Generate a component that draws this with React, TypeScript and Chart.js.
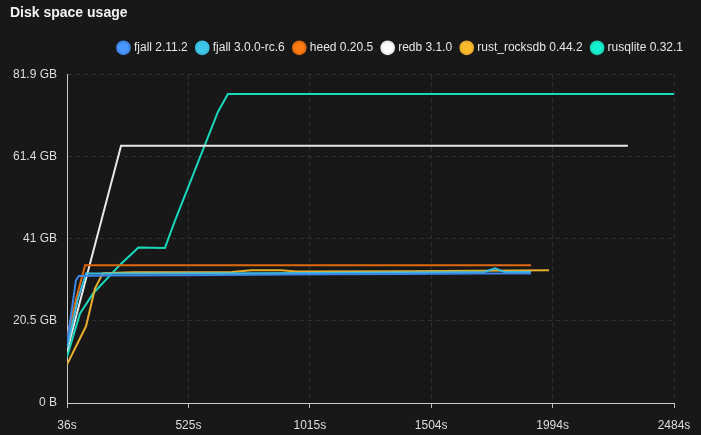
import React, { useEffect, useRef } from "react";
import { Chart, registerables } from "chart.js";

Chart.register(...registerables);

const seriesNames = [
  "fjall 2.11.2",
  "fjall 3.0.0-rc.6",
  "heed 0.20.5",
  "redb 3.1.0",
  "rust_rocksdb 0.44.2",
  "rusqlite 0.32.1",
];

// time (s) and disk usage (GB)
const fjall2T = [36, 72, 84, 200, 500, 800, 1100, 1400, 1700, 1907];
const fjall2Y = [14.9, 30.6, 31.7, 31.8, 31.9, 32.0, 32.1, 32.2, 32.3, 32.3];

const fjall3T = [36, 80, 113, 400, 800, 1200, 1600, 1720, 1762, 1800, 1907];
const fjall3Y = [13.8, 26.0, 32.3, 32.3, 32.4, 32.5, 32.6, 32.7, 33.6, 32.7, 32.7];

const heedT = [36, 75, 109, 1907];
const heedY = [16.2, 26.5, 34.4, 34.4];

const redbT = [36, 254, 2298];
const redbY = [13.0, 64.2, 64.2];

const rocksT = [36, 113, 149, 181, 300, 700, 780, 900, 960, 1400, 1980];
const rocksY = [9.6, 19.2, 28.6, 32.4, 32.6, 32.7, 33.1, 33.1, 32.8, 32.9, 33.1];

const sqliteT = [36, 88, 142, 209, 250, 290, 324, 431, 472, 645, 685, 2484];
const sqliteY = [11.5, 22.3, 27.4, 31.8, 34.5, 36.8, 38.8, 38.7, 45.6, 72.7, 77.1, 77.1];

const xTickValues = [36, 525.6, 1015.2, 1504.8, 1994.4, 2484];
const xTickLabels = ["36s", "525s", "1015s", "1504s", "1994s", "2484s"];
const yTickValues = [0, 20.475, 40.95, 61.425, 81.9];
const yTickLabels = ["0 B", "20.5 GB", "41 GB", "61.4 GB", "81.9 GB"];

const colors = ["#4a98ff", "#3ec8e8", "#ff7a10", "#ffffff", "#fbbb2a", "#14f0d0"];
const lineColors = ["#3d85e6", "#39bde0", "#e0680f", "#e8e8e8", "#e8ad2c", "#18d9bc"];

const pairs = (t: number[], y: number[]) => t.map((x, i) => ({ x, y: y[i] }));

const legendMargin = {
  id: "legendMargin",
  beforeInit(chart: any) {
    const lg = chart.legend;
    if (!lg) return;
    const orig = lg.fit;
    lg.fit = function () {
      orig.call(lg);
      lg.height += 11;
    };
  },
};

export default function App() {
  const ref = useRef<HTMLCanvasElement | null>(null);
  useEffect(() => {
    document.body.style.margin = "0";
    document.body.style.background = "#181818";
    Chart.defaults.font.family = "Arial, 'Liberation Sans', sans-serif";
    const series = [
      pairs(fjall2T, fjall2Y),
      pairs(fjall3T, fjall3Y),
      pairs(heedT, heedY),
      pairs(redbT, redbY),
      pairs(rocksT, rocksY),
      pairs(sqliteT, sqliteY),
    ];
    const chart = new Chart(ref.current!, {
      type: "line",
      data: {
        datasets: series.map((d, i) => ({
          label: seriesNames[i],
          data: d,
          borderColor: lineColors[i],
          backgroundColor: colors[i],
          borderWidth: 2,
          pointRadius: 0,
          tension: 0,
        })),
      },
      plugins: [legendMargin],
      options: {
        animation: false,
        responsive: false,
        layout: { padding: { left: 10, right: 8, top: 0, bottom: 0 } },
        plugins: {
          title: {
            display: true,
            text: "Disk space usage",
            align: "start",
            color: "#f2f2f2",
            font: { size: 14, weight: "bold" },
            padding: { top: 5, bottom: 10 },
          },
          legend: {
            position: "top",
            align: "end",
            labels: {
              usePointStyle: true,
              pointStyle: "circle",
              boxWidth: 9,
              boxHeight: 9,
              color: "#e6e6e6",
              font: { size: 12 },
              padding: 10,
            },
          },
          tooltip: { enabled: false },
        },
        scales: {
          x: {
            type: "linear",
            min: 36,
            max: 2484,
            afterBuildTicks: (s: any) => {
              s.ticks = xTickValues.map((v) => ({ value: v }));
            },
            afterFit: (s: any) => {
              s.height = 32;
              s.paddingRight = 27;
            },
            ticks: {
              color: "#dddddd",
              font: { size: 12 },
              padding: 10,
              maxRotation: 0,
              callback: (_v: any, i: number) => xTickLabels[i],
            },
            grid: {
              color: "#303030",
              tickColor: "#bbbbbb",
              tickLength: 5,
              tickBorderDash: [],
            },
            border: { color: "#cccccc", dash: [4, 4], width: 1 },
          },
          y: {
            type: "linear",
            min: 0,
            max: 81.9,
            afterBuildTicks: (s: any) => {
              s.ticks = yTickValues.map((v) => ({ value: v }));
            },
            afterFit: (s: any) => {
              s.width = 57;
            },
            ticks: {
              color: "#dddddd",
              font: { size: 12 },
              padding: 10,
              callback: (_v: any, i: number) => yTickLabels[i],
            },
            grid: { color: "#303030", drawTicks: false },
            border: { color: "#cccccc", dash: [4, 4], width: 1 },
          },
        },
      },
    });
    return () => chart.destroy();
  }, []);
  return (
    <div style={{ width: 701, height: 435, background: "#181818" }}>
      <canvas ref={ref} width={701} height={435} style={{ display: "block" }} />
    </div>
  );
}
